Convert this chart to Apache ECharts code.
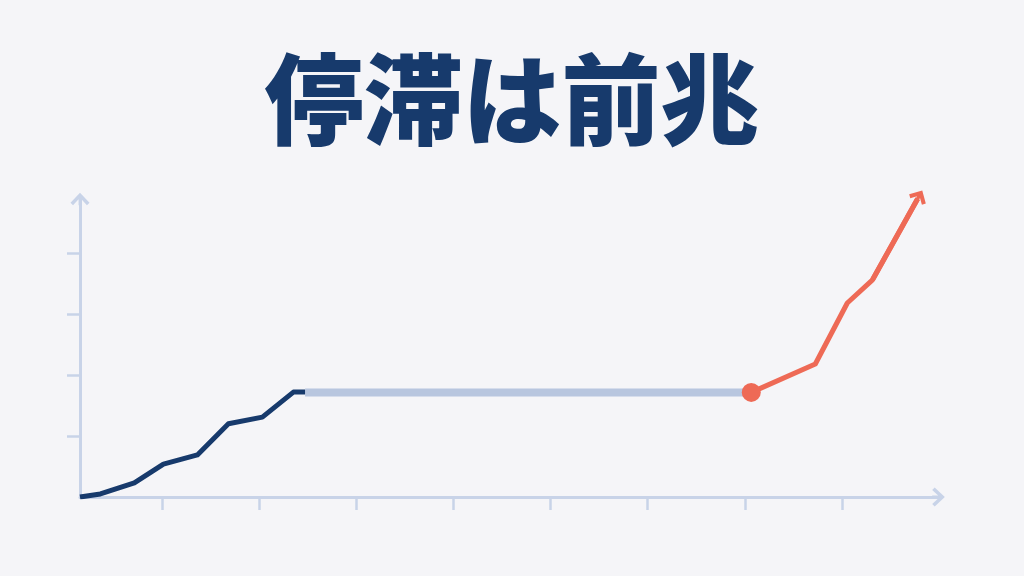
<!DOCTYPE html>
<html>
<head>
<meta charset="utf-8">
<script src="https://cdn.jsdelivr.net/npm/echarts@6/dist/echarts.min.js"></script>
<style>
html,body{margin:0;padding:0;background:#f5f5f8;}
#c{width:1024px;height:576px;}
</style>
</head>
<body>
<div id="c"></div>
<script>
const titleText = '停滞は前兆';
const xTicks = [0.85, 1.85, 2.85, 3.85, 4.85, 5.85, 6.86, 7.86];
const yTicks = [1, 2, 3, 4];
const growthX = [0, 0.21, 0.56, 0.86, 1.21, 1.53, 1.88, 2.2, 2.32];
const growthY = [0, 0.05, 0.23, 0.54, 0.69, 1.2, 1.31, 1.72, 1.72];
const plateauX = [2.32, 6.92];
const plateauY = [1.715, 1.715];
const surgeX = [6.92, 7.58, 7.91, 8.17, 8.635];
const surgeY = [1.715, 2.18, 3.18, 3.56, 4.89];

const zip = (xs, ys) => xs.map((x, i) => [x, ys[i]]);
const AXIS = '#c8d3e8';
const NAVY = '#173a6c';
const CORAL = '#ee6a56';
const GRAYL = '#b8c6df';
const chevron = 'path://M6 0 L12 6.4 L10.4 8 L6.9 4.2 L6.9 8 L5.1 8 L5.1 4.2 L1.6 8 L0 6.4 Z';
const chevronSq = 'path://M6 0 L12 6.2 L10.2 8 L7.1 4.9 L7.1 12 L4.9 12 L4.9 4.9 L1.8 8 L0 6.2 Z';

const chart = echarts.init(document.getElementById('c'), null, {renderer: 'canvas'});
chart.setOption({
  backgroundColor: '#f5f5f8',
  animation: false,
  title: {
    text: titleText,
    left: 'center',
    top: 45,
    textStyle: {
      fontFamily: '"Noto Sans CJK JP", "Noto Sans CJK SC", sans-serif',
      fontWeight: 900,
      fontSize: 99,
      color: NAVY
    }
  },
  grid: {left: 80, right: 85.5, top: 199, bottom: 79},
  xAxis: {
    type: 'value', min: 0, max: 8.85,
    splitLine: {show: false},
    axisLabel: {show: false},
    axisLine: {show: true, onZero: false,
      lineStyle: {color: AXIS, width: 3},
      symbol: ['none', chevron], symbolSize: [19, 14]},
    axisTick: {show: true, inside: false, length: 13, customValues: xTicks,
      lineStyle: {color: AXIS, width: 2.5}}
  },
  yAxis: {
    type: 'value', min: 0, max: 4.885,
    splitLine: {show: false},
    axisLabel: {show: false},
    axisLine: {show: true, onZero: false,
      lineStyle: {color: AXIS, width: 3},
      symbol: ['none', chevron], symbolSize: [19, 14]},
    axisTick: {show: true, inside: false, length: 13, customValues: yTicks,
      lineStyle: {color: AXIS, width: 2.5}}
  },
  series: [
    {type: 'line', data: zip(plateauX, plateauY), showSymbol: false, z: 2,
     lineStyle: {color: GRAYL, width: 8, cap: 'butt'}},
    {type: 'line', data: zip(growthX, growthY), showSymbol: false, z: 3,
     lineStyle: {color: NAVY, width: 5, join: 'round', cap: 'butt'}},
    {type: 'line', data: zip(surgeX, surgeY), showSymbol: false, z: 4, clip: false,
     lineStyle: {color: CORAL, width: 5, join: 'round', cap: 'butt'}},
    {type: 'lines', coordinateSystem: 'cartesian2d', z: 5, clip: false,
     symbol: ['none', chevronSq], symbolSize: 19,
     lineStyle: {color: CORAL, width: 5, opacity: 1},
     data: [{coords: [zip(surgeX, surgeY)[3], zip(surgeX, surgeY)[4]]}]},
    {type: 'scatter', data: [[surgeX[0], surgeY[0]]], symbol: 'circle', symbolSize: 19, z: 6,
     itemStyle: {color: CORAL, opacity: 1}}
  ]
});
</script>
</body>
</html>
